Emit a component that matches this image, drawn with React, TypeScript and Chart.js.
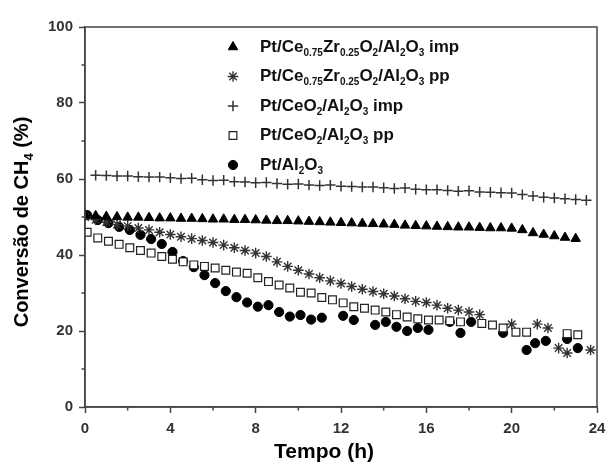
import React, { useEffect, useRef } from 'react';
import { Chart, registerables } from 'chart.js';
import { drawPoint } from 'chart.js/helpers';

Chart.register(...registerables);

// ---------- data ----------
const xTicks = [0, 4, 8, 12, 16, 20, 24];
const yTicks = [0, 20, 40, 60, 80, 100];
const xMinorTicks = [2, 6, 10, 14, 18, 22];
const yMinorTicks = [10, 30, 50, 70, 90];

const seriesLabels = [
  'Pt/Ce₀.₇₅Zr₀.₂₅O₂/Al₂O₃ imp',
  'Pt/Ce₀.₇₅Zr₀.₂₅O₂/Al₂O₃ pp',
  'Pt/CeO₂/Al₂O₃ imp',
  'Pt/CeO₂/Al₂O₃ pp',
  'Pt/Al₂O₃',
];

const czImpTime = [0, 0.5, 1, 1.5, 2, 2.5, 3, 3.5, 4, 4.5, 5, 5.5, 6, 6.5, 7, 7.5, 8, 8.5, 9, 9.5, 10, 10.5, 11, 11.5, 12, 12.5, 13, 13.5, 14, 14.5, 15, 15.5, 16, 16.5, 17, 17.5, 18, 18.5, 19, 19.5, 20, 20.5, 21, 21.5, 22, 22.5, 23];
const czImpValues = [50.5, 50.3, 50.1, 50.0, 49.9, 49.9, 49.8, 49.7, 49.7, 49.6, 49.6, 49.5, 49.4, 49.4, 49.3, 49.3, 49.2, 49.1, 49.0, 49.0, 48.9, 48.8, 48.7, 48.6, 48.5, 48.4, 48.3, 48.2, 48.1, 48.0, 47.8, 47.7, 47.6, 47.5, 47.4, 47.3, 47.3, 47.2, 47.1, 47.1, 47.0, 46.6, 45.8, 45.4, 45.0, 44.6, 44.3];

const czPpTime = [0, 0.5, 1, 1.5, 2, 2.5, 3, 3.5, 4, 4.5, 5, 5.5, 6, 6.5, 7, 7.5, 8, 8.5, 9, 9.5, 10, 10.5, 11, 11.5, 12, 12.5, 13, 13.5, 14, 14.5, 15, 15.5, 16, 16.5, 17, 17.5, 18, 18.5, 20, 21.2, 21.7, 22.2, 22.6, 23.7];
const czPpValues = [50.0, 49.3, 48.6, 48.0, 47.6, 47.1, 46.6, 46.0, 45.4, 44.8, 44.3, 43.8, 43.3, 42.6, 41.9, 41.2, 40.5, 39.6, 38.2, 37.0, 36.0, 35.0, 34.0, 33.2, 32.5, 31.7, 31.0, 30.4, 29.8, 29.2, 28.5, 27.8, 27.5, 26.8, 26.0, 25.5, 25.0, 24.3, 21.8, 21.8, 20.8, 15.5, 14.2, 15.0];

const ceImpTime = [0.5, 1, 1.5, 2, 2.5, 3, 3.5, 4, 4.5, 5, 5.5, 6, 6.5, 7, 7.5, 8, 8.5, 9, 9.5, 10, 10.5, 11, 11.5, 12, 12.5, 13, 13.5, 14, 14.5, 15, 15.5, 16, 16.5, 17, 17.5, 18, 18.5, 19, 19.5, 20, 20.5, 21, 21.5, 22, 22.5, 23, 23.5];
const ceImpValues = [61.0, 60.9, 60.8, 60.8, 60.6, 60.5, 60.5, 60.3, 60.1, 60.2, 59.8, 59.6, 59.7, 59.3, 59.2, 59.0, 59.1, 58.8, 58.6, 58.7, 58.4, 58.3, 58.4, 58.1, 58.0, 57.9, 57.9, 57.7, 57.5, 57.6, 57.3, 57.2, 57.2, 57.0, 56.8, 56.9, 56.6, 56.5, 56.4, 56.3, 55.9, 55.5, 55.2, 55.0, 54.8, 54.6, 54.4];

const cePpTime = [0.1, 0.6, 1.1, 1.6, 2.1, 2.6, 3.1, 3.6, 4.1, 4.6, 5.1, 5.6, 6.1, 6.6, 7.1, 7.6, 8.1, 8.6, 9.1, 9.6, 10.1, 10.6, 11.1, 11.6, 12.1, 12.6, 13.1, 13.6, 14.1, 14.6, 15.1, 15.6, 16.1, 16.6, 17.1, 17.6, 18.6, 19.1, 19.6, 20.2, 20.7, 22.6, 23.1];
const cePpValues = [46.0, 44.5, 43.6, 42.8, 41.9, 41.2, 40.5, 39.6, 38.9, 38.2, 37.4, 37.0, 36.6, 36.0, 35.5, 35.2, 34.0, 33.0, 32.1, 31.3, 30.2, 30.0, 28.8, 28.2, 27.4, 26.4, 26.0, 25.5, 25.0, 24.3, 23.7, 23.2, 22.9, 22.9, 22.7, 22.4, 22.0, 21.6, 20.8, 19.7, 19.7, 19.3, 19.0];

const alTime = [0.1, 0.6, 1.1, 1.6, 2.1, 2.6, 3.1, 3.6, 4.1, 4.6, 5.1, 5.6, 6.1, 6.6, 7.1, 7.6, 8.1, 8.6, 9.1, 9.6, 10.1, 10.6, 11.1, 12.1, 12.6, 13.6, 14.1, 14.6, 15.1, 15.6, 16.1, 17.1, 17.6, 18.1, 19.6, 20.7, 21.1, 21.6, 22.6, 23.1];
const alValues = [50.5, 49.2, 48.4, 47.4, 46.6, 45.3, 44.2, 42.9, 40.8, 38.4, 36.8, 34.7, 32.6, 30.5, 28.9, 27.5, 26.4, 26.8, 25.0, 23.8, 24.2, 23.0, 23.5, 24.0, 22.9, 21.6, 22.4, 21.1, 20.0, 20.8, 20.3, 22.4, 19.5, 22.4, 19.5, 15.0, 16.8, 17.4, 17.9, 15.5];

const xTitle = 'Tempo (h)';
const yTitle = 'Conversão de CH₄ (%)';

// ---------- helpers ----------
const FONT = "'Liberation Sans', Arial, sans-serif";
const SUB_MAP: Record<string, string> = {
  '₀': '0', '₁': '1', '₂': '2', '₃': '3', '₄': '4', '₅': '5', '₆': '6', '₇': '7', '₈': '8', '₉': '9',
};

function drawRichText(ctx: CanvasRenderingContext2D, text: string, x: number, y: number, size: number, subSize: number) {
  const chars = Array.from(text);
  let cx = x;
  ctx.textBaseline = 'middle';
  ctx.textAlign = 'left';
  for (let i = 0; i < chars.length; i++) {
    const c = chars[i];
    const isSub = c in SUB_MAP || (c === '.' && i + 1 < chars.length && chars[i + 1] in SUB_MAP);
    const out = c in SUB_MAP ? SUB_MAP[c] : c;
    ctx.font = `bold ${isSub ? subSize : size}px ${FONT}`;
    ctx.fillText(out, cx, isSub ? y + size * 0.35 : y);
    cx += ctx.measureText(out).width;
  }
}

const pointStyles = ['triangle', 'star', 'cross', 'rect', 'circle'];
const pointRadii = [5.5, 5.3, 5.2, 5.5, 4.6];
const pointFills = ['#000', '#333', '#333', '#fff', '#000'];
const pointBorders = ['#000', '#333', '#333', '#222', '#000'];
const pointBorderWidths = [1, 1.4, 1.5, 1.2, 1];

const decorPlugin = {
  id: 'decor',
  afterDraw(chart: any) {
    const { ctx, chartArea } = chart;
    const xs = chart.scales.x;
    const ys = chart.scales.y;
    ctx.save();
    // frame
    ctx.strokeStyle = '#444';
    ctx.lineWidth = 1.5;
    ctx.strokeRect(chartArea.left, chartArea.top, chartArea.right - chartArea.left, chartArea.bottom - chartArea.top);
    // minor ticks
    ctx.beginPath();
    xMinorTicks.forEach((v) => {
      const px = xs.getPixelForValue(v);
      ctx.moveTo(px, chartArea.bottom);
      ctx.lineTo(px, chartArea.bottom + 3.5);
    });
    yMinorTicks.forEach((v) => {
      const py = ys.getPixelForValue(v);
      ctx.moveTo(chartArea.left, py);
      ctx.lineTo(chartArea.left - 3.5, py);
    });
    ctx.stroke();

    // titles
    ctx.fillStyle = '#000';
    ctx.font = `bold 21px ${FONT}`;
    ctx.textAlign = 'center';
    ctx.textBaseline = 'middle';
    ctx.fillText(xTitle, 324, 452);
    ctx.save();
    ctx.translate(22, 222);
    ctx.rotate(-Math.PI / 2);
    const size = 20;
    const sub = 13;
    const chars = Array.from(yTitle);
    let total = 0;
    chars.forEach((c) => {
      const isSub = c in SUB_MAP;
      ctx.font = `bold ${isSub ? sub : size}px ${FONT}`;
      total += ctx.measureText(isSub ? SUB_MAP[c] : c).width;
    });
    drawRichText(ctx, yTitle, -total / 2, 0, size, sub);
    ctx.restore();

    // legend
    const lx = 233;
    const tx = 260;
    const y0 = 47;
    const dy = 29.5;
    chart.data.datasets.forEach((ds: any, i: number) => {
      const y = y0 + i * dy;
      ctx.save();
      ctx.fillStyle = pointFills[i];
      ctx.strokeStyle = pointBorders[i];
      ctx.lineWidth = pointBorderWidths[i];
      drawPoint(ctx, { pointStyle: pointStyles[i], radius: pointRadii[i], rotation: 0, borderWidth: pointBorderWidths[i] } as any, lx, y);
      ctx.restore();
      ctx.fillStyle = '#111';
      drawRichText(ctx, ds.label, tx, y, 17, 10);
    });
    ctx.restore();
  },
};

function toPoints(t: number[], v: number[]) {
  return t.map((x, i) => ({ x, y: v[i] }));
}

export default function App() {
  const ref = useRef<HTMLCanvasElement | null>(null);
  useEffect(() => {
    document.body.style.margin = '0';
    const canvas = ref.current!;
    const series = [
      toPoints(czImpTime, czImpValues),
      toPoints(czPpTime, czPpValues),
      toPoints(ceImpTime, ceImpValues),
      toPoints(cePpTime, cePpValues),
      toPoints(alTime, alValues),
    ];
    const chart = new Chart(canvas, {
      type: 'scatter',
      data: {
        datasets: series.map((d, i) => ({
          label: seriesLabels[i],
          data: d,
          showLine: false,
          pointStyle: pointStyles[i] as any,
          pointRadius: pointRadii[i],
          pointBackgroundColor: pointFills[i],
          pointBorderColor: pointBorders[i],
          pointBorderWidth: pointBorderWidths[i],
        })),
      },
      options: {
        responsive: false,
        animation: false,
        layout: { padding: { top: 27, right: 1, left: 0, bottom: 0 } },
        plugins: { legend: { display: false }, tooltip: { enabled: false } },
        scales: {
          x: {
            type: 'linear',
            min: 0,
            max: 24,
            afterBuildTicks: (s: any) => { s.ticks = xTicks.map((v) => ({ value: v })); },
            afterFit: (s: any) => { s.height = 58; s.paddingRight = 9; },
            ticks: { color: '#333', font: { family: FONT, size: 15, weight: 'bold' }, padding: 7 },
            grid: { drawOnChartArea: false, tickLength: 6, tickColor: '#444', tickWidth: 1.5 },
            border: { color: '#444', width: 1.5 },
          },
          y: {
            type: 'linear',
            min: 0,
            max: 100,
            afterBuildTicks: (s: any) => { s.ticks = yTicks.map((v) => ({ value: v })); },
            afterFit: (s: any) => { s.width = 85; },
            ticks: { color: '#333', font: { family: FONT, size: 15, weight: 'bold' }, padding: 6 },
            grid: { drawOnChartArea: false, tickLength: 6, tickColor: '#444', tickWidth: 1.5 },
            border: { color: '#444', width: 1.5 },
          },
        },
      } as any,
      plugins: [decorPlugin],
    });
    return () => chart.destroy();
  }, []);
  return <canvas ref={ref} width={606} height={465} style={{ display: 'block' }} />;
}
